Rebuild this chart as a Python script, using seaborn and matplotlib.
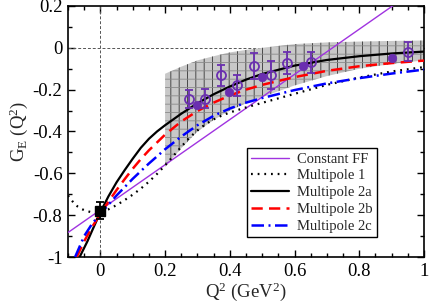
import numpy as np
import pandas as pd
import matplotlib
matplotlib.use("Agg")
import matplotlib.pyplot as plt
from matplotlib.ticker import MultipleLocator, FuncFormatter
import seaborn as sns

# ---------------- data ----------------
const_x = [-0.1, 0.91]
const_y = [-0.883, 0.208]

m1_x = [-0.1, -0.09, -0.08, -0.07, -0.06, -0.05, -0.04, -0.03, -0.02, -0.01, 0.0,
        0.025, 0.05, 0.075, 0.1, 0.125, 0.15, 0.175, 0.2, 0.225, 0.25, 0.275, 0.3,
        0.325, 0.35, 0.375, 0.4, 0.45, 0.5, 0.6, 0.7, 0.8, 0.9, 1.0]
m1_y = [-0.706, -0.727, -0.745, -0.759, -0.769, -0.776, -0.781, -0.785, -0.787, -0.787,
        -0.785, -0.772, -0.752, -0.728, -0.702, -0.673, -0.64, -0.603, -0.562, -0.518,
        -0.473, -0.43, -0.395, -0.365, -0.342, -0.324, -0.309, -0.285, -0.263, -0.22,
        -0.177, -0.142, -0.113, -0.092]

m2a_x = [-0.064, -0.04, -0.02, 0.0, 0.025, 0.05, 0.075, 0.1, 0.125, 0.15, 0.175, 0.2,
         0.25, 0.3, 0.35, 0.4, 0.45, 0.5, 0.6, 0.7, 0.8, 0.9, 1.0]
m2a_y = [-1.0, -0.925, -0.855, -0.786, -0.71, -0.643, -0.585, -0.53, -0.478, -0.435,
         -0.4, -0.37, -0.315, -0.265, -0.222, -0.185, -0.152, -0.125, -0.085, -0.058,
         -0.04, -0.027, -0.018]

m2b_x = [-0.073, -0.05, -0.025, 0.0, 0.025, 0.05, 0.075, 0.1, 0.125, 0.15, 0.2, 0.25,
         0.3, 0.35, 0.4, 0.45, 0.5, 0.6, 0.7, 0.8, 0.9, 1.0]
m2b_y = [-1.0, -0.925, -0.855, -0.794, -0.735, -0.68, -0.628, -0.578, -0.532, -0.49,
         -0.415, -0.352, -0.302, -0.262, -0.228, -0.2, -0.177, -0.14, -0.11, -0.088,
         -0.073, -0.061]

m2c_x = [-0.078, -0.05, -0.025, 0.0, 0.025, 0.05, 0.1, 0.15, 0.2, 0.25, 0.3, 0.35, 0.4,
         0.45, 0.5, 0.6, 0.7, 0.8, 0.9, 1.0]
m2c_y = [-1.0, -0.9, -0.84, -0.794, -0.75, -0.706, -0.626, -0.553, -0.485, -0.424,
         -0.37, -0.325, -0.29, -0.262, -0.24, -0.202, -0.17, -0.145, -0.123, -0.104]

band_x = [0.2, 0.25, 0.3, 0.35, 0.4, 0.45, 0.5, 0.6, 0.7, 0.8, 0.9, 1.0]
band_hi = [-0.124, -0.09, -0.06, -0.04, -0.022, -0.01, 0.0, 0.018, 0.026, 0.03, 0.033, 0.035]
band_lo = [-0.57, -0.48, -0.40, -0.345, -0.30, -0.265, -0.235, -0.18, -0.135, -0.10, -0.077, -0.06]

open_x = [0.273, 0.323, 0.374, 0.422, 0.476, 0.527, 0.576, 0.65, 0.95]
open_y = [-0.246, -0.244, -0.132, -0.18, -0.085, -0.13, -0.072, -0.068, -0.018]
open_err = [0.044, 0.045, 0.05, 0.048, 0.062, 0.066, 0.052, 0.05, 0.045]

filled_x = [0.30, 0.398, 0.499, 0.625, 0.90]
filled_y = [-0.273, -0.21, -0.138, -0.089, -0.048]

sq_x = [0.0]
sq_y = [-0.778]
sq_err = [0.04]

x_ticks = [0, 0.2, 0.4, 0.6, 0.8, 1.0]
y_ticks = [-1.0, -0.8, -0.6, -0.4, -0.2, 0.0, 0.2]

# ---------------- style ----------------
sns.set_theme(style="ticks")
plt.rcParams['font.family'] = ['Liberation Serif', 'DejaVu Serif']
plt.rcParams['mathtext.fontset'] = 'custom'
plt.rcParams['mathtext.rm'] = 'Liberation Serif'
plt.rcParams['mathtext.it'] = 'Liberation Serif:italic'
plt.rcParams['axes.unicode_minus'] = False
plt.rcParams['hatch.linewidth'] = 0.6

fig = plt.figure(figsize=(4.29, 3.04), dpi=100)
ax = fig.add_axes([68 / 429, 47 / 304, 356 / 429, 251 / 304])

purple_line = '#a033e0'
purple_mk = '#6a2fb0'

# reference lines
ax.axvline(0, color='#555555', lw=0.7, ls=(0, (3, 2)), zorder=1)
ax.axhline(0, color='#555555', lw=0.7, ls=(0, (3, 2)), zorder=1)

# band: gray fill with vertical dark lines and lighter horizontal lines
ax.fill_between(band_x, band_lo, band_hi, facecolor='#c8c8c8', edgecolor='#333333',
                hatch='||', linewidth=0, zorder=2)
ax.fill_between(band_x, band_lo, band_hi, facecolor='none', edgecolor='#8a8a8a',
                hatch='--', linewidth=0, zorder=2)

# curves
df_const = pd.DataFrame({'x': const_x, 'y': const_y})
df_m1 = pd.DataFrame({'x': m1_x, 'y': m1_y})
df_m2a = pd.DataFrame({'x': m2a_x, 'y': m2a_y})
df_m2b = pd.DataFrame({'x': m2b_x, 'y': m2b_y})
df_m2c = pd.DataFrame({'x': m2c_x, 'y': m2c_y})

sns.lineplot(data=df_const, x='x', y='y', ax=ax, color=purple_line, lw=1.0,
             sort=False, label='Constant FF', zorder=4)
sns.lineplot(data=df_m1, x='x', y='y', ax=ax, color='black', lw=1.6,
             linestyle=(0, (0.8, 2.2)), sort=False, label='Multipole 1', zorder=4)
sns.lineplot(data=df_m2a, x='x', y='y', ax=ax, color='black', lw=1.6,
             sort=False, label='Multipole 2a', zorder=4)
sns.lineplot(data=df_m2b, x='x', y='y', ax=ax, color='#ff0000', lw=1.8,
             linestyle=(0, (4.5, 2.5)), sort=False, label='Multipole 2b', zorder=4)
sns.lineplot(data=df_m2c, x='x', y='y', ax=ax, color='#0000ff', lw=1.8,
             linestyle=(0, (5, 1.8, 0.8, 1.8)), sort=False, label='Multipole 2c', zorder=4)

# data points
ax.errorbar(open_x, open_y, yerr=open_err, fmt='o', mfc='none', mec=purple_mk,
            ecolor=purple_mk, ms=6.5, mew=1.3, elinewidth=1.3, capsize=3, capthick=1.3,
            zorder=6)
sns.scatterplot(x=filled_x, y=filled_y, ax=ax, color=purple_mk, s=38, edgecolor=purple_mk,
                zorder=6, legend=False)
ax.errorbar(sq_x, sq_y, yerr=sq_err, fmt='s', color='black', ms=6.5,
            elinewidth=1.3, capsize=3, capthick=1.3, zorder=7)

# axes
ax.set_xlim(-0.1, 1.0)
ax.set_ylim(-1.0, 0.2)
ax.set_xticks(x_ticks)
ax.set_yticks(y_ticks)
ax.xaxis.set_minor_locator(MultipleLocator(0.05))
ax.yaxis.set_minor_locator(MultipleLocator(0.1))
fmt = FuncFormatter(lambda v, p: ('%g' % round(v, 3)) if abs(v) > 1e-9 else '0')
ax.xaxis.set_major_formatter(fmt)
ax.yaxis.set_major_formatter(fmt)
ax.tick_params(which='both', direction='in', top=True, right=True, width=1.0,
               labelsize=13.5, colors='black')
ax.tick_params(which='major', length=5, pad=4)
ax.tick_params(which='minor', length=3)
for s in ax.spines.values():
    s.set_linewidth(1.2)
    s.set_color('black')

ax.set_xlabel(r'Q$^2$ (GeV$^2$)', fontsize=13.5, labelpad=1)
ax.set_ylabel(r'G$_\mathrm{E}$ (Q$^2$)', fontsize=13.5, labelpad=2)

leg = ax.legend(loc='lower left', bbox_to_anchor=(0.502, 0.078), borderaxespad=0,
                fontsize=10.5, frameon=True, fancybox=False, framealpha=1,
                edgecolor='black', handlelength=2.6, handletextpad=0.55,
                labelspacing=0.25, borderpad=0.3)
leg.get_frame().set_linewidth(1.0)

fig.savefig('out.png', dpi=100)
